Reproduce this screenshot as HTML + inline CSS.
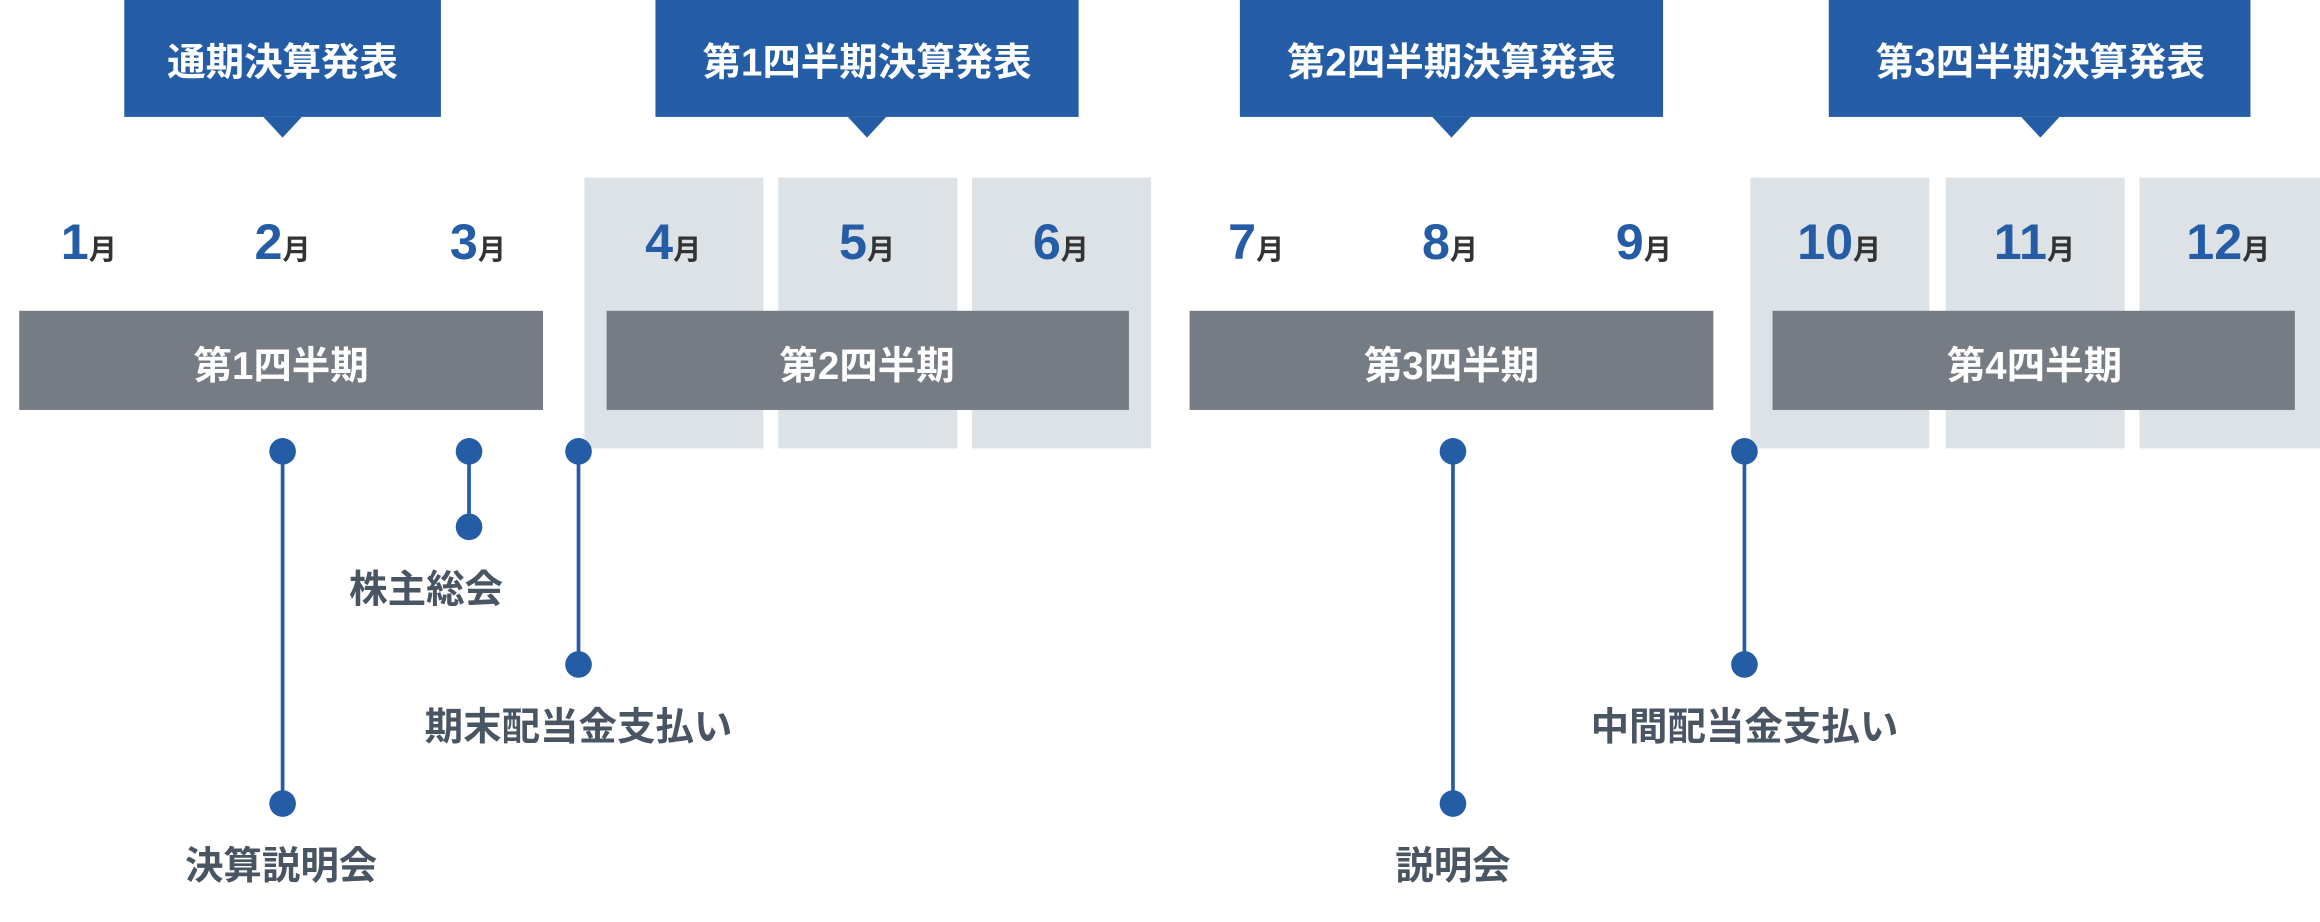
<!DOCTYPE html>
<html><head><meta charset="utf-8"><style>
html,body{margin:0;padding:0;background:#fff;}
svg{display:block;}
text{font-family:"Liberation Sans","Noto Sans CJK JP",sans-serif;font-weight:700;}
</style></head><body>
<svg width="2320" height="922" viewBox="0 0 1568 623" preserveAspectRatio="none" xmlns="http://www.w3.org/2000/svg">
<g fill="#dde2e6">
<rect x="395" y="120" width="121" height="183"/>
<rect x="526" y="120" width="121" height="183"/>
<rect x="657" y="120" width="121" height="183"/>
<rect x="1183" y="120" width="121" height="183"/>
<rect x="1315" y="120" width="121" height="183"/>
<rect x="1446" y="120" width="122" height="183"/>
</g>
<g fill="#245ca6">
<rect x="84" y="0" width="214" height="79"/><polygon points="178,79 204,79 191,93"/>
<rect x="443" y="0" width="286" height="79"/><polygon points="573,79 599,79 586,93"/>
<rect x="838" y="0" width="286" height="79"/><polygon points="968,79 994,79 981,93"/>
<rect x="1236" y="0" width="285" height="79"/><polygon points="1366,79 1392,79 1379,93"/>
</g>
<g fill="#fff" font-size="26" text-anchor="middle">
<text x="191" y="51">通期決算発表</text>
<text x="586" y="51">第1四半期決算発表</text>
<text x="981" y="51">第2四半期決算発表</text>
<text x="1379" y="51">第3四半期決算発表</text>
</g>
<g text-anchor="middle">
<text x="60" y="175"><tspan fill="#245ca6" font-size="34">1</tspan><tspan fill="#333" font-size="19">月</tspan></text>
<text x="191" y="175"><tspan fill="#245ca6" font-size="34">2</tspan><tspan fill="#333" font-size="19">月</tspan></text>
<text x="323" y="175"><tspan fill="#245ca6" font-size="34">3</tspan><tspan fill="#333" font-size="19">月</tspan></text>
<text x="455" y="175"><tspan fill="#245ca6" font-size="34">4</tspan><tspan fill="#333" font-size="19">月</tspan></text>
<text x="586" y="175"><tspan fill="#245ca6" font-size="34">5</tspan><tspan fill="#333" font-size="19">月</tspan></text>
<text x="717" y="175"><tspan fill="#245ca6" font-size="34">6</tspan><tspan fill="#333" font-size="19">月</tspan></text>
<text x="849" y="175"><tspan fill="#245ca6" font-size="34">7</tspan><tspan fill="#333" font-size="19">月</tspan></text>
<text x="980" y="175"><tspan fill="#245ca6" font-size="34">8</tspan><tspan fill="#333" font-size="19">月</tspan></text>
<text x="1111" y="175"><tspan fill="#245ca6" font-size="34">9</tspan><tspan fill="#333" font-size="19">月</tspan></text>
<text x="1243" y="175"><tspan fill="#245ca6" font-size="34">10</tspan><tspan fill="#333" font-size="19">月</tspan></text>
<text x="1375" y="175"><tspan fill="#245ca6" font-size="34">11</tspan><tspan fill="#333" font-size="19">月</tspan></text>
<text x="1506" y="175"><tspan fill="#245ca6" font-size="34">12</tspan><tspan fill="#333" font-size="19">月</tspan></text>
</g>
<g fill="#767c83">
<rect x="13" y="210" width="354" height="67"/>
<rect x="410" y="210" width="353" height="67"/>
<rect x="804" y="210" width="354" height="67"/>
<rect x="1198" y="210" width="353" height="67"/>
</g>
<g fill="#fff" font-size="26" text-anchor="middle">
<text x="190" y="256">第1四半期</text>
<text x="586" y="256">第2四半期</text>
<text x="981" y="256">第3四半期</text>
<text x="1375" y="256">第4四半期</text>
</g>
<g stroke="#245ca6" stroke-width="2.5">
<line x1="191" y1="305" x2="191" y2="543"/>
<line x1="317" y1="305" x2="317" y2="356"/>
<line x1="391" y1="305" x2="391" y2="449"/>
<line x1="982" y1="305" x2="982" y2="543"/>
<line x1="1179" y1="305" x2="1179" y2="449"/>
</g>
<g fill="#245ca6">
<circle cx="191" cy="305" r="9"/><circle cx="191" cy="543" r="9"/>
<circle cx="317" cy="305" r="9"/><circle cx="317" cy="356" r="9"/>
<circle cx="391" cy="305" r="9"/><circle cx="391" cy="449" r="9"/>
<circle cx="982" cy="305" r="9"/><circle cx="982" cy="543" r="9"/>
<circle cx="1179" cy="305" r="9"/><circle cx="1179" cy="449" r="9"/>
</g>
<g fill="#4a5563" font-size="26" text-anchor="middle">
<text x="190" y="594">決算説明会</text>
<text x="288" y="407">株主総会</text>
<text x="391" y="500">期末配当金支払い</text>
<text x="982" y="594">説明会</text>
<text x="1179" y="500">中間配当金支払い</text>
</g>
</svg>
</body></html>
